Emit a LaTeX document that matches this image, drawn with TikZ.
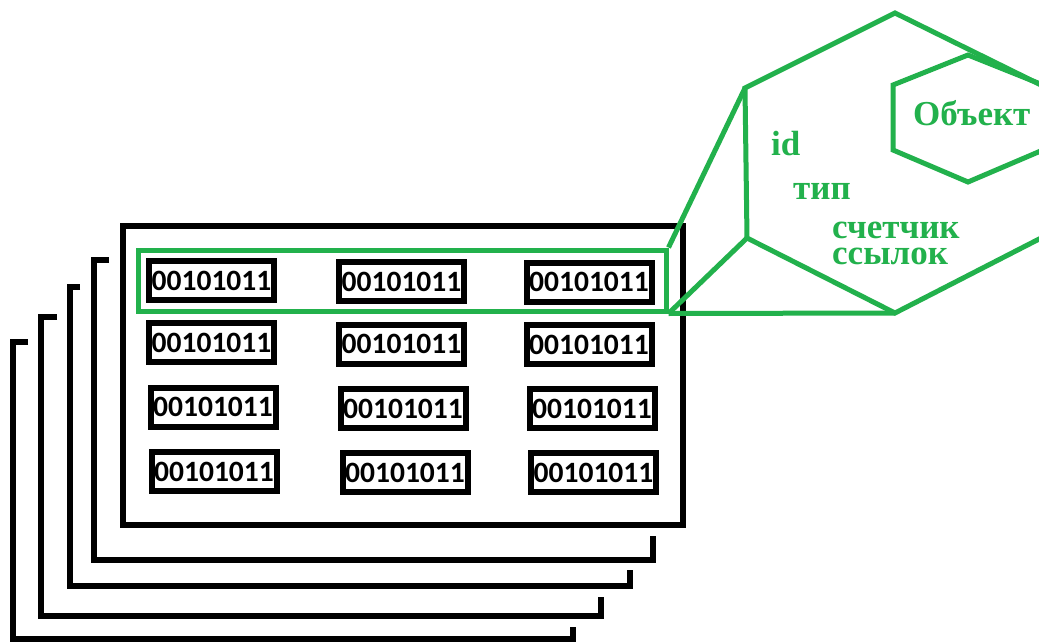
\documentclass[tikz,border=0pt]{standalone}
\usepackage{fontspec}
\newfontfamily\cellfont{Carlito}
\newfontfamily\labelfont{Liberation Serif}
\definecolor{pgreen}{HTML}{22B14C}
\begin{document}
\begin{tikzpicture}[x=1pt,y=-1pt,
  page/.style={line width=6pt, draw=black},
  cell/.style={draw=black, line width=6pt, minimum width=125pt, minimum height=39pt, inner sep=0pt,
    font=\cellfont\bfseries\fontsize{29.5}{29.5}\selectfont},
  gline/.style={draw=pgreen, line width=5pt, line join=miter},
  glabel/.style={text=pgreen, font=\labelfont\bfseries\fontsize{35}{26}\selectfont, anchor=base west, inner sep=0pt}]
\useasboundingbox (0,0) rectangle (1039,642);
\clip (0,0) rectangle (1039,642);
\fill[white] (0,0) rectangle (1039,642);

% back pages
\draw[page] (28,342) -- (13,342) -- (13,639) -- (573,639) -- (573,627);
\draw[page] (57,317) -- (41,317) -- (41,616) -- (601,616) -- (601,597);
\draw[page] (80,287) -- (70,287) -- (70,586) -- (630,586) -- (630,570);
\draw[page] (109,260) -- (94,260) -- (94,560) -- (653,560) -- (653,536);
% front page
\draw[page] (123,225.5) rectangle (683,524.5);

% cells
\node[cell] (c11) at (211.5,280.5) {00101011};
\node[cell] (c12) at (401.5,281.5) {00101011};
\node[cell] (c13) at (589,282) {00101011};
\node[cell] (c21) at (211.5,342.5) {00101011};
\node[cell] (c22) at (401.5,344) {00101011};
\node[cell] (c23) at (589,344.5) {00101011};
\node[cell] (c31) at (213,407) {00101011};
\node[cell] (c32) at (403,408.5) {00101011};
\node[cell] (c33) at (592,408.5) {00101011};
\node[cell] (c41) at (214,471.5) {00101011};
\node[cell] (c42) at (405,472.5) {00101011};
\node[cell] (c43) at (593.5,472.5) {00101011};

% green selection
\node[draw=pgreen, line width=5pt, minimum width=528pt, minimum height=61pt, inner sep=0pt] (sel) at (402,280.5) {};

% big hexagon
\coordinate (B1) at (895,13);
\coordinate (B2) at (745,88);
\coordinate (B3) at (747,238);
\coordinate (B4) at (895,313);
\coordinate (B5) at (1045,236);
\coordinate (B6) at (1045,87);
\draw[gline] (B1) -- (B2) -- (B3) -- (B4) -- (B5) -- (B6) -- cycle;

% small hexagon
\coordinate (S1) at (968,55);
\coordinate (S2) at (893,85);
\coordinate (S3) at (893,150);
\coordinate (S4) at (968,182);
\coordinate (S5) at (1043,150);
\coordinate (S6) at (1043,85);
\draw[gline] (S1) -- (S2) -- (S3) -- (S4) -- (S5) -- (S6) -- cycle;

% callout lines
\draw[gline] (sel.north east) -- (B2);
\draw[gline] (sel.south east) -- (B3);
\draw[gline] (sel.south east) -- (B4);

% labels
\node[glabel] (obj) at (913,125) {Объект};
\node[glabel] (id) at (771,155) {id};
\node[glabel] (typ) at (793,199) {тип};
\node[glabel, align=left] (cnt) at (832,264) {счетчик\\ссылок};
\end{tikzpicture}
\end{document}
